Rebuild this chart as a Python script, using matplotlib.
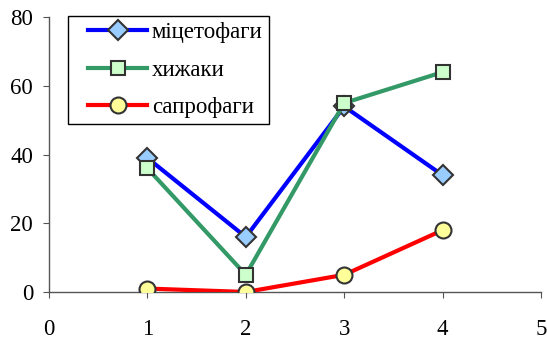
import matplotlib
matplotlib.use('Agg')
import matplotlib.pyplot as plt
from matplotlib.lines import Line2D
from matplotlib.legend_handler import HandlerLine2D

# Дані
x = [1, 2, 3, 4]
mitsetofagy = [39, 16, 54, 34]
khyzhaky = [36, 5, 55, 64]
saprofagy = [1, 0, 5, 18]

plt.rcParams['font.family'] = ['Liberation Serif', 'DejaVu Serif']

fig = plt.figure(figsize=(5.47, 3.43), dpi=100)
ax = fig.add_axes([0.0896, 0.1487, 0.8994, 0.8013])

ax.plot(x, mitsetofagy, color='#0000FF', lw=3, marker='D', ms=10,
        mfc='#99CCFF', mec='#333333', mew=1.5, label='міцетофаги', zorder=3)
ax.plot(x, khyzhaky, color='#339966', lw=3, marker='s', ms=10,
        mfc='#CCFFCC', mec='#333333', mew=1.5, label='хижаки', zorder=3)
ax.plot(x, saprofagy, color='#FF0000', lw=3, marker='o', ms=11.5,
        mfc='#FFFF99', mec='#333333', mew=1.5, label='сапрофаги', zorder=3)

ax.set_xlim(0, 5)
ax.set_ylim(0, 80)
ax.set_xticks(range(0, 6))
ax.set_yticks(range(0, 81, 20))
for s in ['top', 'right']:
    ax.spines[s].set_visible(False)
for s in ['left', 'bottom']:
    ax.spines[s].set_color('#555555')
    ax.spines[s].set_linewidth(1)
ax.tick_params(axis='y', direction='out', length=4.5, color='#555555', labelsize=16.5, pad=7)
ax.tick_params(axis='x', direction='out', length=4.5, color='#555555', labelsize=16.5, pad=15)

# відступ лінії в легенді зліва
leg = ax.legend(loc='upper left', bbox_to_anchor=(68 / 547, 1 - 16 / 343),
                bbox_transform=fig.transFigure, fontsize=16.5,
                fancybox=False, framealpha=1, edgecolor='black',
                handlelength=3.2, handletextpad=0.2, labelspacing=0.72,
                borderpad=0.26, borderaxespad=0,
                handler_map={Line2D: HandlerLine2D(xpad=0.6)})
leg.get_frame().set_linewidth(1)

fig.savefig('out.png', dpi=100)
